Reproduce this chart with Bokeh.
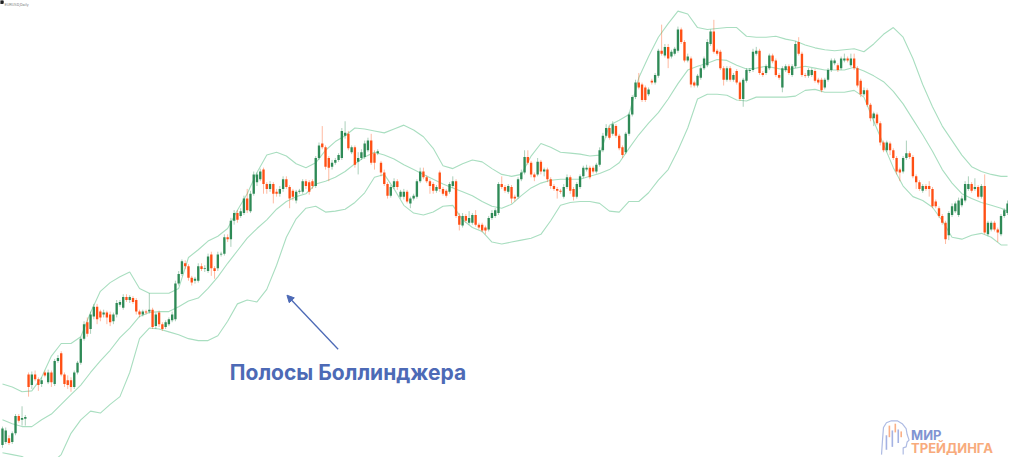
from bokeh.plotting import figure
from bokeh.models import Range1d, Label, Arrow, NormalHead, ColumnDataSource
from bokeh.embed import file_html
from bokeh.resources import INLINE

# ---------------- data (price units, higher = higher price) ----------------
opens = [
    40, 43, 47, 43, 52, 70, 66, 67, 113, 102,
    113, 108, 103, 115, 105, 115, 103, 127, 135, 113,
    107, 107, 100, 115, 125, 150, 167, 160, 173, 183,
    178, 175, 177, 175, 168, 175, 185, 182, 193, 190,
    192, 190, 178, 175, 178, 178, 180, 163, 177, 165,
    162, 165, 169, 170, 207, 217, 228, 225, 213, 210,
    210, 225, 222, 220, 237, 223, 223, 237, 238, 255,
    253, 272, 280, 277, 280, 295, 282, 300, 312, 315,
    325, 310, 305, 310, 302, 300, 305, 315, 307, 303,
    293, 302, 302, 313, 312, 313, 308, 337, 352, 348,
    337, 328, 332, 335, 337, 360, 362, 343, 348, 333,
    337, 338, 345, 355, 342, 342, 332, 322, 310, 298,
    307, 313, 297, 297, 302, 290, 295, 297, 313, 323,
    317, 313, 310, 303, 322, 305, 303, 302, 308, 313,
    277, 267, 277, 270, 270, 278, 268, 268, 265, 263,
    275, 277, 280, 310, 307, 302, 307, 297, 297, 315,
    322, 338, 332, 320, 320, 333, 323, 325, 315, 308,
    305, 303, 297, 307, 317, 305, 297, 307, 318, 325,
    327, 327, 323, 330, 345, 360, 368, 362, 370, 360,
    348, 343, 362, 382, 400, 415, 413, 410, 403, 417,
    415, 422, 448, 443, 452, 442, 445, 448, 470, 457,
    438, 440, 415, 412, 420, 430, 433, 455, 468, 448,
    447, 430, 418, 430, 418, 427, 415, 398, 417, 427,
    428, 445, 448, 425, 425, 430, 443, 438, 423, 410,
    428, 432, 423, 432, 457, 445, 423, 422, 423, 427,
    418, 418, 410, 418, 428, 435, 433, 430, 438, 440,
    433, 440, 430, 417, 403, 407, 392, 378, 382, 373,
    353, 345, 352, 345, 337, 325, 323, 337, 342, 338,
    318, 312, 303, 308, 308, 305, 292, 285, 277, 270,
    257, 278, 282, 278, 288, 293, 305, 310, 305, 307,
    297, 308, 258, 263, 270, 263, 258, 277, 280,
]
closes = [
    57, 55, 42, 52, 70, 65, 68, 69, 100, 113,
    108, 102, 107, 112, 115, 105, 127, 130, 113, 103,
    102, 100, 115, 125, 150, 165, 155, 175, 183, 170,
    172, 177, 172, 167, 175, 187, 188, 193, 190, 193,
    188, 178, 175, 178, 177, 180, 162, 175, 165, 160,
    167, 170, 175, 207, 217, 230, 225, 213, 208, 212,
    225, 222, 223, 235, 223, 220, 237, 238, 255, 253,
    272, 280, 273, 282, 295, 283, 300, 320, 320, 323,
    310, 305, 310, 300, 300, 305, 315, 307, 295, 297,
    302, 303, 313, 308, 302, 308, 337, 350, 348, 328,
    327, 332, 335, 340, 365, 363, 347, 348, 330, 337,
    343, 352, 355, 332, 332, 344, 322, 310, 298, 307,
    313, 307, 302, 302, 292, 295, 298, 313, 323, 317,
    313, 308, 303, 307, 305, 300, 298, 310, 313, 277,
    268, 277, 272, 275, 278, 268, 265, 262, 262, 275,
    280, 283, 310, 307, 303, 308, 295, 295, 315, 322,
    338, 332, 320, 317, 333, 323, 325, 315, 308, 305,
    303, 302, 307, 317, 303, 297, 310, 318, 327, 327,
    317, 323, 330, 345, 360, 368, 358, 372, 360, 347,
    340, 362, 382, 400, 415, 410, 397, 397, 408, 415,
    423, 448, 445, 452, 440, 447, 450, 470, 457, 438,
    442, 413, 412, 422, 430, 440, 457, 468, 447, 445,
    430, 418, 430, 418, 423, 415, 398, 418, 428, 428,
    447, 448, 425, 423, 432, 443, 437, 423, 420, 430,
    432, 425, 432, 455, 445, 423, 422, 428, 428, 417,
    415, 407, 418, 428, 438, 438, 428, 440, 440, 438,
    440, 430, 412, 403, 407, 392, 378, 383, 373, 353,
    345, 353, 345, 337, 323, 322, 337, 342, 338, 318,
    312, 305, 308, 305, 305, 287, 287, 277, 270, 253,
    280, 287, 290, 293, 295, 310, 310, 303, 307, 297,
    308, 260, 270, 270, 263, 260, 277, 283, 290,
]
highs = [
    59, 58, 50, 54, 72, 72, 80, 71, 115, 116,
    117, 110, 110, 117, 118, 117, 129, 133, 137, 115,
    112, 110, 117, 127, 152, 168, 172, 178, 186, 186,
    180, 180, 179, 178, 177, 190, 190, 196, 196, 195,
    194, 192, 180, 180, 180, 197, 182, 177, 179, 167,
    169, 172, 178, 210, 220, 232, 231, 227, 215, 214,
    228, 228, 226, 238, 240, 225, 240, 240, 258, 258,
    275, 283, 283, 285, 298, 305, 303, 323, 322, 326,
    327, 312, 313, 312, 305, 308, 318, 318, 309, 305,
    304, 305, 315, 315, 314, 315, 339, 353, 370, 350,
    339, 335, 337, 342, 368, 375, 365, 350, 350, 343,
    346, 355, 358, 362, 345, 346, 334, 325, 312, 309,
    316, 315, 304, 305, 304, 297, 300, 315, 327, 327,
    319, 315, 312, 309, 324, 307, 305, 312, 318, 315,
    280, 280, 279, 282, 280, 283, 270, 270, 267, 277,
    283, 285, 312, 318, 309, 310, 309, 299, 317, 325,
    345, 345, 334, 322, 337, 335, 327, 327, 317, 310,
    307, 305, 310, 320, 319, 307, 312, 320, 329, 330,
    329, 329, 332, 348, 363, 372, 370, 375, 372, 362,
    350, 364, 384, 402, 418, 425, 415, 412, 410, 419,
    425, 450, 475, 455, 455, 449, 452, 473, 472, 459,
    445, 442, 417, 424, 432, 442, 460, 470, 480, 450,
    449, 432, 432, 432, 425, 429, 417, 420, 430, 430,
    450, 452, 450, 427, 434, 445, 445, 440, 425, 432,
    434, 434, 434, 458, 462, 447, 425, 430, 430, 429,
    420, 420, 420, 430, 440, 440, 435, 442, 445, 442,
    445, 445, 432, 419, 410, 409, 394, 385, 384, 375,
    355, 355, 354, 347, 339, 327, 339, 355, 344, 340,
    320, 314, 310, 310, 313, 307, 294, 287, 279, 272,
    282, 290, 292, 296, 298, 313, 318, 312, 316, 309,
    310, 320, 272, 272, 272, 265, 279, 285, 293,
]
lows = [
    37, 41, 40, 41, 50, 63, 60, 60, 90, 98,
    106, 96, 100, 110, 103, 100, 101, 125, 111, 100,
    98, 95, 98, 113, 123, 148, 152, 155, 170, 165,
    168, 172, 165, 163, 165, 172, 183, 180, 188, 187,
    186, 175, 172, 173, 175, 176, 160, 160, 162, 158,
    160, 163, 167, 168, 205, 215, 222, 210, 205, 207,
    208, 220, 219, 218, 215, 212, 220, 235, 236, 250,
    245, 268, 270, 275, 278, 280, 280, 298, 308, 313,
    300, 300, 302, 290, 297, 297, 302, 305, 285, 293,
    290, 300, 300, 305, 299, 305, 306, 335, 346, 325,
    313, 325, 330, 333, 335, 357, 345, 341, 327, 320,
    335, 336, 343, 330, 325, 340, 318, 308, 295, 296,
    305, 304, 295, 294, 290, 285, 293, 295, 311, 315,
    311, 300, 300, 301, 302, 298, 296, 300, 306, 275,
    262, 265, 270, 268, 268, 266, 263, 260, 258, 261,
    273, 275, 278, 305, 301, 300, 290, 292, 295, 313,
    320, 330, 317, 313, 318, 320, 318, 312, 305, 303,
    295, 300, 295, 305, 300, 293, 295, 305, 316, 323,
    315, 321, 321, 328, 343, 358, 356, 360, 358, 345,
    337, 341, 360, 380, 398, 408, 395, 395, 401, 413,
    413, 420, 443, 441, 430, 440, 443, 446, 455, 436,
    436, 410, 410, 410, 418, 428, 431, 453, 445, 443,
    428, 412, 416, 416, 416, 413, 396, 390, 415, 425,
    426, 443, 423, 421, 423, 428, 435, 421, 418, 405,
    426, 423, 421, 430, 443, 421, 420, 420, 421, 415,
    413, 405, 408, 416, 426, 433, 426, 428, 436, 436,
    431, 428, 410, 400, 401, 390, 375, 370, 371, 350,
    343, 343, 340, 335, 320, 313, 321, 335, 336, 316,
    305, 303, 301, 303, 297, 285, 285, 275, 268, 248,
    252, 276, 280, 276, 286, 291, 303, 301, 303, 295,
    295, 258, 256, 261, 261, 250, 256, 275, 278,
]

# Bollinger bands, sampled every third bar (bar index)
band_idx = list(range(0, 307, 3)) + [308]
upper = [
    103, 100, 95, 96, 110, 132, 145, 145, 152, 177,
    199, 208, 214, 219, 202, 197, 197, 197, 202, 234,
    242, 251, 256, 264, 283, 300, 322, 340, 343, 339,
    331, 327, 332, 345, 354, 360, 368, 367, 365, 363,
    367, 371, 366, 359, 347, 329, 326, 331, 335, 333,
    326, 320, 318, 320, 339, 352, 348, 343, 342, 341,
    339, 340, 371, 376, 382, 420, 442, 462, 476, 489,
    486, 472, 470, 471, 472, 472, 463, 462, 462, 463,
    460, 458, 454, 451, 449, 448, 449, 450, 447, 455,
    465, 472, 462, 440, 413, 390, 370, 355, 340, 328,
    323, 320, 318, 318,
]
middle = [
    66, 62, 59, 59, 66, 72, 82, 92, 102, 115,
    127, 138, 151, 161, 173, 177, 178, 178, 183, 189,
    192, 202, 214, 228, 241, 254, 264, 273, 284, 292,
    297, 300, 310, 313, 317, 323, 331, 338, 343, 340,
    336, 330, 325, 320, 315, 310, 306, 302, 298, 292,
    287, 285, 289, 298, 306, 311, 314, 315, 315, 315,
    318, 321, 325, 332, 347, 361, 373, 384, 398, 414,
    428, 432, 435, 439, 438, 433, 429, 430, 432, 430,
    428, 430, 432, 430, 428, 428, 428, 431, 427, 422,
    416, 406, 393, 377, 361, 344, 325, 311, 300, 295,
    291, 288, 285, 282,
]
lower = [
    32, 30, 28, 22, 19, 21, 30, 52, 66, 75,
    73, 82, 90, 115, 150, 161, 160, 157, 154, 150,
    148, 148, 153, 168, 186, 190, 188, 201, 226, 255,
    274, 285, 287, 281, 282, 284, 291, 301, 317, 320,
    305, 288, 280, 278, 281, 287, 288, 273, 265, 261,
    250, 248, 250, 252, 254, 258, 272, 288, 291, 292,
    292, 290, 282, 281, 292, 292, 301, 314, 325, 345,
    368, 398, 403, 403, 402, 397, 396, 400, 400, 400,
    400, 401, 407, 408, 405, 405, 405, 407, 400, 375,
    351, 327, 308, 297, 293, 286, 272, 255, 253, 257,
    259, 255, 247, 247,
]

title_text = "EURUSD,Daily"
caption = "Полосы Боллинджера"
brand_top = "МИР"
brand_bottom = "ТРЕЙДИНГА"

# ---------------- styling ----------------
GREEN = "#2e8a56"
RED = "#ff4f14"
BAND = "#a9dec0"
BLUE = "#4d6ab6"

# mapping from the original 1024x473 design grid to data space
X0, DX = 2.0, 3.315
def gx(px):
    return (px - X0) / DX
def gy(py):
    return 500 - py

W, H = 1008, 457
p = figure(width=W, height=H,
           x_range=Range1d(gx(0), gx(1024)), y_range=Range1d(gy(473), gy(0)),
           output_backend="svg", toolbar_location=None, min_border=0)
p.axis.visible = False
p.grid.visible = False
p.outline_line_color = None
p.background_fill_color = "white"
p.border_fill_color = "white"

# bands
p.line(band_idx, upper, line_color=BAND, line_width=1.1)
p.line(band_idx, middle, line_color=BAND, line_width=1.1)
p.line(band_idx, lower, line_color=BAND, line_width=1.1)

# candles
n = len(opens)
def make_src(sel):
    return ColumnDataSource(dict(
        x=[i for i in sel],
        top=[max(opens[i], closes[i]) for i in sel],
        bottom=[min(opens[i], closes[i]) for i in sel],
        high=[highs[i] for i in sel],
        low=[lows[i] for i in sel],
    ))

up_sel = [i for i in range(n) if closes[i] >= opens[i]]
dn_sel = [i for i in range(n) if closes[i] < opens[i]]
for sel, col in ((up_sel, GREEN), (dn_sel, RED)):
    src = make_src(sel)
    p.segment(x0="x", y0="low", x1="x", y1="high", source=src,
              line_color=col, line_alpha=0.4, line_width=1)
    p.vbar(x="x", top="top", bottom="bottom", width=0.72, source=src,
           fill_color=col, line_color=None)

# caption + arrow
p.add_layout(Label(x=gx(233), y=gy(385), text=caption, text_font="Inter",
                   text_font_size="21px", text_font_style="bold",
                   text_color=BLUE, text_baseline="alphabetic"))
p.add_layout(Arrow(end=NormalHead(size=7, fill_color=BLUE, line_color=BLUE, line_width=1),
                   x_start=gx(343), y_start=gy(361), x_end=gx(291), y_end=gy(305),
                   line_color=BLUE, line_width=1.3))

# tiny chart title top-left
p.scatter([gx(1.2)], [gy(1.5)], marker="square", size=3, color="#222222")
p.add_layout(Label(x=gx(4), y=gy(4), text=title_text, text_font="Roboto",
                   text_font_size="4px", text_color="#888888", text_baseline="alphabetic"))

# logo: head outline with little candles
head_x = [895, 896, 897, 900, 905, 911, 916, 920, 921, 923, 921, 920, 917, 917]
head_y = [470, 455, 442, 437, 435, 435, 438, 443, 449, 455, 457, 462, 463, 470]
p.line([gx(v) for v in head_x], [gy(v) for v in head_y], line_color="#aebbe3", line_width=1.2)
logo_cx = [900, 903, 906, 909, 912, 915]
logo_y0 = [465, 452, 462, 447, 458, 452]
logo_y1 = [450, 440, 445, 438, 444, 446]
logo_col = ["#9aaae0", "#f9a77a", "#9aaae0", "#f9a77a", "#9aaae0", "#f9a77a"]
p.segment(x0=[gx(v) for v in logo_cx], y0=[gy(v) for v in logo_y0],
          x1=[gx(v) for v in logo_cx], y1=[gy(v) for v in logo_y1],
          line_color=logo_col, line_width=1.6, line_alpha=0.9)
p.add_layout(Label(x=gx(925), y=gy(450), text=brand_top, text_font="Inter",
                   text_font_size="13px", text_font_style="bold",
                   text_color="#8094d2", text_baseline="alphabetic"))
p.add_layout(Label(x=gx(925), y=gy(463.5), text=brand_bottom, text_font="Inter",
                   text_font_size="13px", text_font_style="bold",
                   text_color="#f8ab7c", text_baseline="alphabetic"))

open("out.html", "w").write(file_html(p, INLINE))
